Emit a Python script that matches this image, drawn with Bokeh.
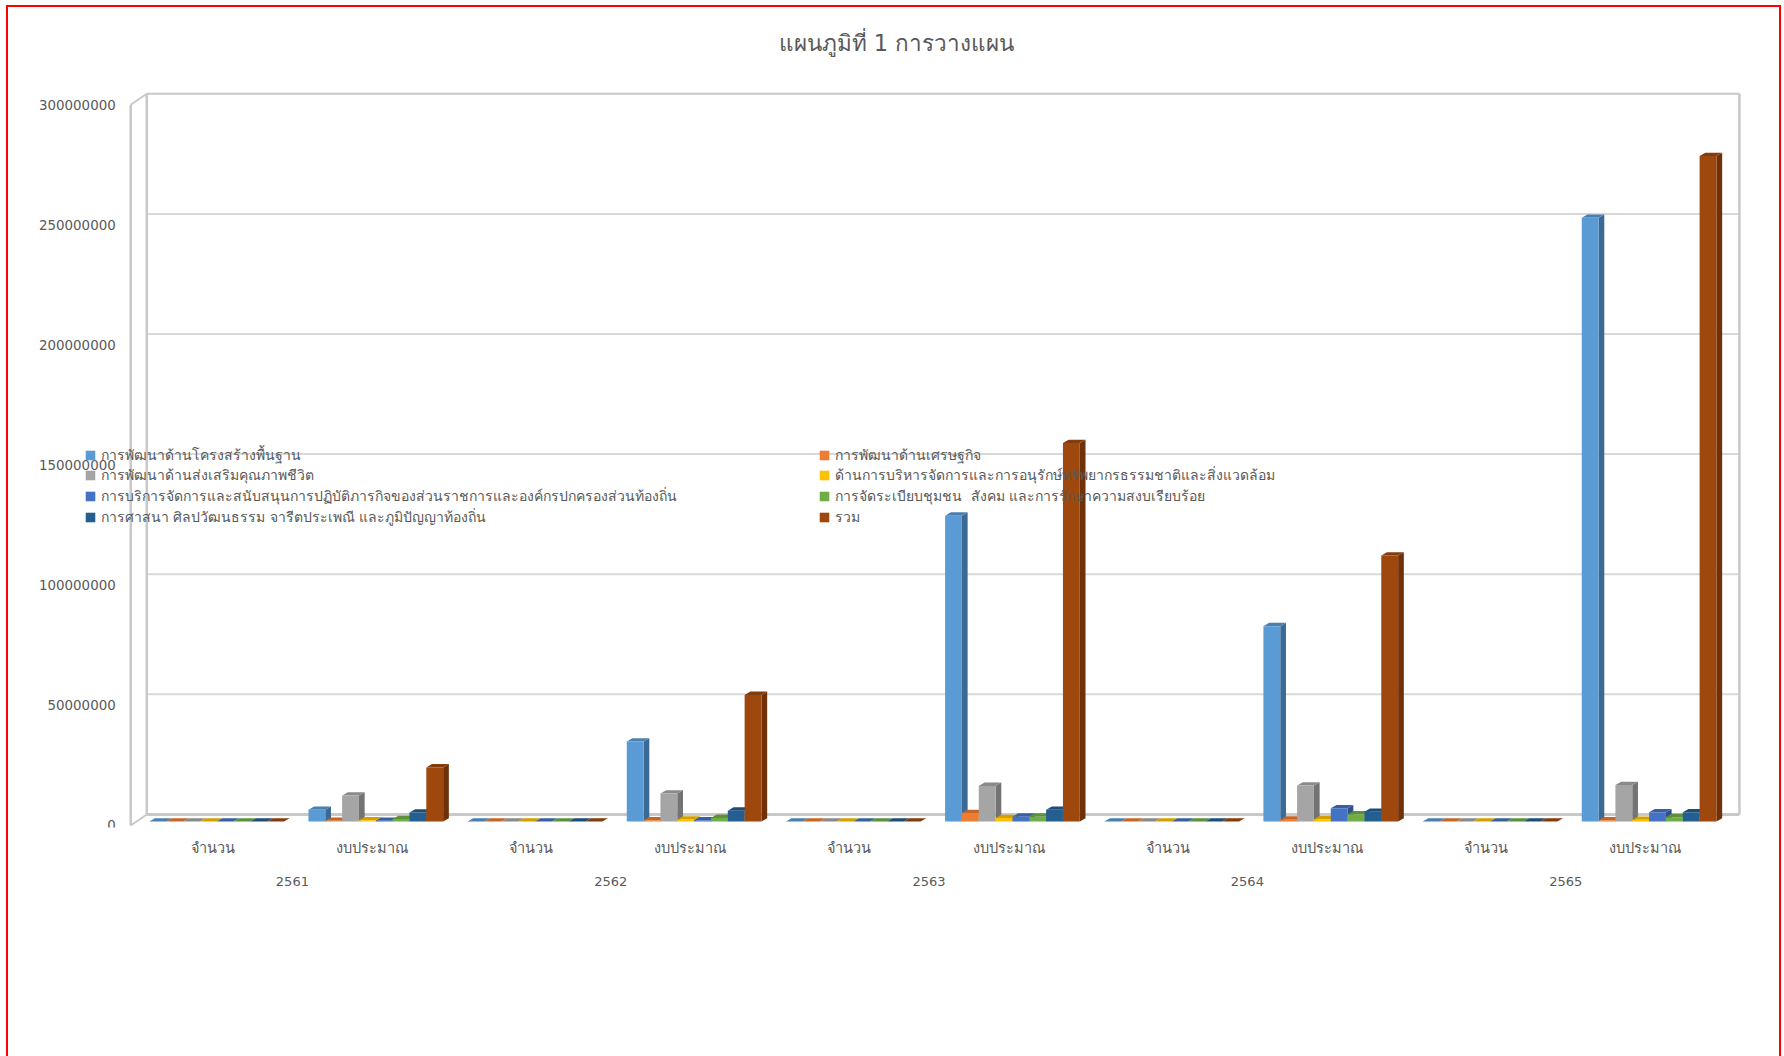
from bokeh.plotting import figure
from bokeh.models import FixedTicker, Legend, LegendItem, LinearAxis, Range1d, Title, NumeralTickFormatter
from bokeh.embed import file_html
from bokeh.resources import INLINE

years = ["2561", "2562", "2563", "2564", "2565"]
kinds = ["จำนวน", "งบประมาณ"]
y_ticks = [0, 50000000, 100000000, 150000000, 200000000, 250000000, 300000000]
title_text = "แผนภูมิที่ 1 การวางแผน"

names = [
    "การพัฒนาด้านโครงสร้างพื้นฐาน",
    "การพัฒนาด้านเศรษฐกิจ",
    "การพัฒนาด้านส่งเสริมคุณภาพชีวิต",
    "ด้านการบริหารจัดการและการอนุรักษ์ทรัพยากรธรรมชาติและสิ่งแวดล้อม",
    "การบริการจัดการและสนับสนุนการปฏิบัติภารกิจของส่วนราชการและองค์กรปกครองส่วนท้องถิ่น",
    "การจัดระเบียบชุมชน  สังคม และการรักษาความสงบเรียบร้อย",
    "การศาสนา ศิลปวัฒนธรรม จารีตประเพณี และภูมิปัญญาท้องถิ่น",
    "รวม",
]
infra = [0, 4900000, 0, 33300000, 0, 127300000, 0, 81300000, 0, 251300000]
econ = [0, 300000, 0, 500000, 0, 3500000, 0, 750000, 0, 500000]
life = [0, 10800000, 0, 11600000, 0, 14800000, 0, 15000000, 0, 15200000]
envi = [0, 500000, 0, 800000, 0, 1400000, 0, 900000, 0, 700000]
admin = [0, 300000, 0, 500000, 0, 2000000, 0, 5500000, 0, 3800000]
order = [0, 1000000, 0, 1500000, 0, 2000000, 0, 3000000, 0, 1800000]
relig = [0, 3700000, 0, 4500000, 0, 4900000, 0, 4000000, 0, 3800000]
total = [0, 22500000, 0, 52700000, 0, 157500000, 0, 110700000, 0, 277000000]
series = [infra, econ, life, envi, admin, order, relig, total]

front = ["#5B9BD5", "#ED7D31", "#A5A5A5", "#FFC000", "#4472C4", "#70AD47", "#255E91", "#9E480E"]
side = ["#3B6A94", "#A5571F", "#737373", "#B38600", "#2F5089", "#4E7931", "#193F63", "#6E3109"]
top = ["#4A80B0", "#C46628", "#8A8A8A", "#D4A000", "#38609F", "#5D903A", "#1E4D78", "#833C0B"]

FONT = "DejaVu Sans"
GREY = "#595959"
PX_X = 1 / 158.8        # one pixel in category units
PX_Y = 50000000 / 119.8 # one pixel in value units

p = figure(width=1775, height=1051,
           x_range=Range1d(-102.5 * PX_X, 1645.5 * PX_X),
           y_range=Range1d(-2 * PX_Y, 754 * PX_Y),
           output_backend="svg", toolbar_location=None, min_border_left=22,
           min_border_right=1, min_border_bottom=231, min_border_top=62,
           background_fill_color="white", border_fill_color="white")
p.outline_line_color = None
p.xgrid.visible = False
p.ygrid.visible = False
p.styles = {"border-left": "2px solid #FF0000", "border-top": "2px solid #FF0000",
            "border-right": "2px solid #FF0000", "margin": "5px 0 0 6px"}

p.title = Title(text=title_text, align="left", offset=748, text_font=FONT, text_font_size="22.5px",
                text_font_style="normal", text_color=GREY, standoff=27)

# value axis
p.yaxis.fixed_location = -14.5 * PX_X
p.yaxis.ticker = FixedTicker(ticks=y_ticks)
p.yaxis.formatter = NumeralTickFormatter(format="0")
p.yaxis.axis_line_color = None
p.yaxis.major_tick_line_color = None
p.yaxis.minor_tick_line_color = None
p.yaxis.major_tick_out = 0
p.yaxis.major_label_standoff = 3
p.yaxis.major_label_text_font = FONT
p.yaxis.major_label_text_font_size = "13.4px"
p.yaxis.major_label_text_color = GREY


def style_x(axis, size, standoff):
    axis.axis_line_color = None
    axis.major_tick_line_color = None
    axis.minor_tick_line_color = None
    axis.major_tick_out = 0
    axis.major_label_standoff = standoff
    axis.major_label_orientation = "horizontal"
    axis.major_label_text_font = FONT
    axis.major_label_text_font_size = size
    axis.major_label_text_color = GREY


# category axes: kinds nearest the floor, years beneath them
kind_labels = [k for _ in years for k in kinds]
kind_pos = [i + 0.5 for i in range(len(kind_labels))]
year_pos = [2 * i + 1.0 for i in range(len(years))]
kind_axis = p.xaxis[0]
kind_axis.ticker = FixedTicker(ticks=kind_pos)
kind_axis.major_label_overrides = dict(zip(kind_pos, kind_labels))
style_x(kind_axis, "14.5px", 12)
year_axis = LinearAxis(ticker=FixedTicker(ticks=year_pos),
                       major_label_overrides=dict(zip(year_pos, years)))
style_x(year_axis, "13px", 18)
p.add_layout(year_axis, "below")

# walls: floor and gridlines sit on the back plane
back_dy = 11 * PX_Y
left_front = -2.5 * PX_X
left_back = 13.5 * PX_X
right_back = 10 + 14.5 * PX_X
wall = "#C8C8C8"
grid = "#D9D9D9"
for v in y_ticks[1:-1]:
    p.line([left_back, right_back], [v + back_dy, v + back_dy], line_color=grid, line_width=2)
p.line([left_back, right_back], [back_dy, back_dy], line_color=wall, line_width=3)
p.line([left_back, right_back], [y_ticks[-1] + back_dy] * 2, line_color=wall, line_width=2)
p.line([right_back, right_back], [back_dy, y_ticks[-1] + back_dy], line_color=wall, line_width=2.5)
p.line([left_back, left_back], [back_dy, y_ticks[-1] + back_dy], line_color=wall, line_width=2.5)
p.line([left_front, left_front], [0, y_ticks[-1]], line_color=wall, line_width=2.5)
p.line([left_front, left_back], [0, back_dy], line_color=wall, line_width=2)
p.line([left_front, left_back], [y_ticks[-1], y_ticks[-1] + back_dy], line_color=wall, line_width=2)

# bars
base = 4 * PX_Y
bar_w = 16.8 * PX_X
start = 16 * PX_X
dx = 5.7 * PX_X
dy = 3.3 * PX_Y
renderers = []
for i, vals in enumerate(series):
    lefts = [c + start + i * bar_w for c in range(len(vals))]
    rights = [x + bar_w for x in lefts]
    bottoms = [base] * len(vals)
    tops = [base + v for v in vals]
    p.patches([[r, r + dx, r + dx, r] for r in rights],
              [[b, b + dy, u + dy, u] for b, u in zip(bottoms, tops)],
              fill_color=side[i], line_color=None)
    p.patches([[l, l + dx, r + dx, r] for l, r in zip(lefts, rights)],
              [[u, u + dy, u + dy, u] for u in tops],
              fill_color=top[i], line_color=None)
    renderers.append(p.quad(left=lefts, right=rights, bottom=bottoms, top=tops,
                            fill_color=front[i], line_color=None))


# one legend per entry, so the row pitch is not tied to the measured text height
def add_entry(k, x, row):
    lg = Legend(items=[LegendItem(label=names[k], renderers=[renderers[k]])],
                location=(x, 299.4 + (3 - row) * 20.6), orientation="vertical",
                padding=0, margin=0, glyph_width=12, glyph_height=12, label_standoff=5,
                label_text_font=FONT, label_text_font_size="14px", label_text_color=GREY,
                background_fill_alpha=0, border_line_color=None)
    p.add_layout(lg, "center")


for row, k in enumerate([0, 2, 4, 6]):
    add_entry(k, 54, row)
for row, k in enumerate([1, 3, 5, 7]):
    add_entry(k, 788, row)

open("out.html", "w").write(file_html(p, INLINE))
